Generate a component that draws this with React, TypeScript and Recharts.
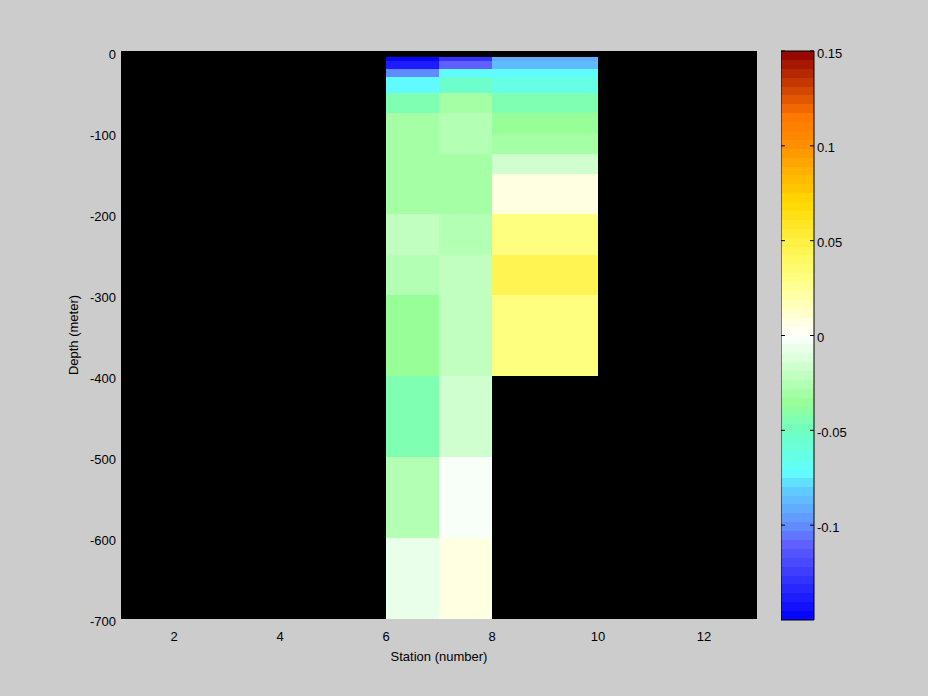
import React from "react";
import { ComposedChart, XAxis, YAxis, ReferenceArea, ReferenceLine, Scatter, Label } from "recharts";

// depth boundaries of the cells (m) and station boundaries of the columns
const depthEdges = [-5, -10, -20, -30, -50, -75, -100, -125, -150, -200, -250, -300, -400, -500, -600, -700];
const stationEdges = [6, 7, 8, 10];

// anomaly per depth cell, one list per column (null = no data)
const anomalyCol6 = [-0.148, -0.137, -0.103, -0.072, -0.046, -0.03, -0.03, -0.032, -0.03, -0.021, -0.027, -0.035, -0.044, -0.025, -0.005];
const anomalyCol7 = [-0.13, -0.11, -0.072, -0.052, -0.031, -0.027, -0.027, -0.032, -0.03, -0.027, -0.021, -0.021, -0.016, -0.002, 0.009];
const anomalyCol8 = [-0.09, -0.085, -0.072, -0.065, -0.046, -0.035, -0.032, -0.016, 0.005, 0.03, 0.045, 0.032, null, null, null];
const columns = [anomalyCol6, anomalyCol7, anomalyCol8];

const stationTicks = [2, 4, 6, 8, 10, 12];
const depthTicks = [0, -100, -200, -300, -400, -500, -600, -700];
const cbarTicks = [-0.1, -0.05, 0, 0.05, 0.1, 0.15];

const CMIN = -0.15;
const CMAX = 0.15;
const NLEVELS = 64;

// colormap anchors: blue - cyan - green - white - yellow - orange - dark red
const cmapAnchors: [number, number[]][] = [
  [-0.15, [0, 0, 255]],
  [-0.11, [96, 96, 255]],
  [-0.1, [96, 144, 255]],
  [-0.08, [96, 208, 255]],
  [-0.072, [96, 255, 255]],
  [-0.05, [112, 255, 192]],
  [-0.035, [152, 255, 152]],
  [0, [255, 255, 255]],
  [0.03, [255, 255, 128]],
  [0.05, [255, 240, 64]],
  [0.07, [255, 216, 0]],
  [0.1, [255, 144, 0]],
  [0.115, [255, 120, 0]],
  [0.15, [144, 0, 0]],
];

function interpColor(v: number) {
  for (let i = 0; i < cmapAnchors.length - 1; i++) {
    const [v0, c0] = cmapAnchors[i];
    const [v1, c1] = cmapAnchors[i + 1];
    if (v >= v0 && v <= v1) {
      const t = (v - v0) / (v1 - v0);
      const c = c0.map((a, k) => Math.round(a + (c1[k] - a) * t));
      return `rgb(${c[0]},${c[1]},${c[2]})`;
    }
  }
  return "#000";
}

const levelWidth = (CMAX - CMIN) / NLEVELS;
const levels = Array.from({ length: NLEVELS }, (_, i) => ({
  lo: CMIN + i * levelWidth,
  hi: CMIN + (i + 1) * levelWidth,
  color: interpColor(CMIN + (i + 0.5) * levelWidth),
}));

function colorFor(v: number) {
  let i = Math.floor((v - CMIN) / levelWidth);
  i = Math.max(0, Math.min(NLEVELS - 1, i));
  return levels[i].color;
}

const cells: { x1: number; x2: number; y1: number; y2: number; fill: string }[] = [];
columns.forEach((col, c) => {
  col.forEach((v, r) => {
    if (v === null) return;
    cells.push({
      x1: stationEdges[c],
      x2: stationEdges[c + 1],
      y1: depthEdges[r + 1],
      y2: depthEdges[r],
      fill: colorFor(v),
    });
  });
});
const centers = cells.map((c) => ({ x: (c.x1 + c.x2) / 2, y: (c.y1 + c.y2) / 2 }));

const font = { fill: "#000", fontSize: 13, fontFamily: "Liberation Sans, Arial, sans-serif" };

export default function App() {
  return (
    <div style={{ position: "absolute", left: 0, top: 0, width: 928, height: 696, background: "#cccccc" }}>
      <div style={{ position: "absolute", left: 0, top: 0 }}>
        <ComposedChart width={928} height={696} margin={{ top: 51, right: 171, bottom: 47, left: 61 }}>
          <XAxis
            type="number"
            dataKey="x"
            domain={[1, 13]}
            ticks={stationTicks}
            allowDataOverflow
            tickLine={false}
            axisLine={false}
            tickSize={6}
            tickMargin={7}
            tick={font}
            height={30}
          >
            <Label value="Station (number)" position="bottom" offset={3} style={font} />
          </XAxis>
          <YAxis
            type="number"
            dataKey="y"
            domain={[-700, 2]}
            ticks={depthTicks}
            allowDataOverflow
            tickLine={false}
            axisLine={false}
            tickSize={3}
            tickMargin={2}
            tick={{ ...font, dy: 2 }}
            width={60}
          >
            <Label value="Depth (meter)" angle={-90} position="insideLeft" offset={12} style={{ ...font, textAnchor: "middle" }} />
          </YAxis>
          <ReferenceArea x1={1} x2={13} y1={-700} y2={2} fill="#000" fillOpacity={1} stroke="none" shapeRendering="crispEdges" />
          {cells.map((c, i) => (
            <ReferenceArea
              key={i}
              x1={c.x1}
              x2={c.x2}
              y1={c.y1}
              y2={c.y2}
              fill={c.fill}
              fillOpacity={1}
              stroke="none"
              shapeRendering="crispEdges"
            />
          ))}
          <Scatter data={centers} fill="none" stroke="none" isAnimationActive={false} />
        </ComposedChart>
      </div>

      {/* colorbar */}
      <div style={{ position: "absolute", left: 781, top: 0 }}>
        <ComposedChart width={93} height={696} margin={{ top: 51, right: 0, bottom: 76, left: 0 }}>
          <XAxis type="number" dataKey="x" domain={[0, 1]} hide allowDataOverflow />
          <YAxis
            type="number"
            dataKey="y"
            orientation="right"
            domain={[CMIN, CMAX]}
            ticks={cbarTicks}
            allowDataOverflow
            tickLine={false}
            axisLine={false}
            tickSize={0}
            tickMargin={3}
            tick={{ ...font, dy: 2 }}
            width={60}
          />
          {levels.map((l, i) => (
            <ReferenceArea
              key={i}
              x1={0}
              x2={1}
              y1={l.lo}
              y2={l.hi}
              fill={l.color}
              fillOpacity={1}
              stroke="none"
              shapeRendering="crispEdges"
            />
          ))}
          <ReferenceArea x1={0} x2={1} y1={CMIN} y2={CMAX} fill="none" stroke="#000" strokeWidth={1} />
          {cbarTicks.map((t) => (
            <ReferenceLine key={"l" + t} segment={[{ x: 0, y: t }, { x: 0.12, y: t }]} stroke="#000" />
          ))}
          {cbarTicks.map((t) => (
            <ReferenceLine key={"r" + t} segment={[{ x: 0.88, y: t }, { x: 1, y: t }]} stroke="#000" />
          ))}
          <Scatter data={[{ x: 0.5, y: 0 }]} fill="none" stroke="none" isAnimationActive={false} />
        </ComposedChart>
      </div>
    </div>
  );
}
